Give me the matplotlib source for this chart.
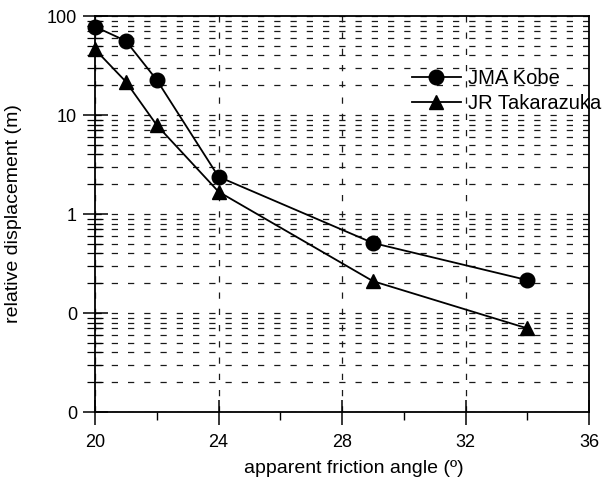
import matplotlib
matplotlib.use("Agg")
import matplotlib.pyplot as plt
import numpy as np
from matplotlib.ticker import LogLocator, NullFormatter, MultipleLocator

plt.rcParams['font.family'] = ['Liberation Sans', 'DejaVu Sans']

angle_kobe = [20, 21, 22, 24, 29, 34]
disp_kobe = [78, 56, 22.6, 2.38, 0.51, 0.215]
angle_tak = [20, 21, 22, 24, 29, 34]
disp_tak = [46, 21.7, 7.9, 1.68, 0.21, 0.07]

ytick_vals = [0.01, 0.1, 1, 10, 100]
ytick_labels = ["0", "0", "1", "10", "100"]
xtick_vals = [20, 24, 28, 32, 36]

fig = plt.figure(figsize=(6.15, 4.78), dpi=100)
ax = fig.add_axes([0.1545, 0.138, 0.8033, 0.8285])

ax.set_yscale('log')
ax.set_ylim(0.01, 100)
ax.set_xlim(20, 36)

ax.plot(angle_kobe, disp_kobe, color='black', lw=1.3, marker='o', ms=10.5,
        label='JMA Kobe', zorder=3, clip_on=False)
ax.plot(angle_tak, disp_tak, color='black', lw=1.3, marker='^', ms=9.5,
        label='JR Takarazuka', zorder=3, clip_on=False)

ax.set_yticks(ytick_vals)
ax.set_yticklabels(ytick_labels)
ax.yaxis.set_minor_locator(LogLocator(base=10, subs=np.arange(2, 10)))
ax.yaxis.set_minor_formatter(NullFormatter())
ax.set_xticks(xtick_vals)
ax.xaxis.set_minor_locator(MultipleLocator(2))

grid_style = dict(color='#1a1a1a', lw=0.9, linestyle=(0, (5, 8)))
ax.grid(True, which='both', axis='y', **grid_style)
ax.grid(True, which='major', axis='x', **grid_style)

ax.tick_params(axis='both', which='major', direction='inout', length=18, width=1.1,
               labelsize=13, colors='black')
ax.tick_params(axis='x', which='major', pad=7)
ax.tick_params(axis='y', which='major', pad=4)
ax.tick_params(axis='y', which='minor', direction='inout', length=11, width=0.9)
ax.tick_params(axis='x', which='minor', direction='out', length=6, width=1.0)

for s in ax.spines.values():
    s.set_linewidth(1.3)
    s.set_color('black')

ax.set_xlabel('apparent friction angle (º)', fontsize=14, labelpad=4)
ax.xaxis.set_label_coords(0.524, -0.12)
ax.set_ylabel('relative displacement (m)', fontsize=14)
ax.yaxis.set_label_coords(-0.148, 0.5)

leg = ax.legend(loc='upper left', bbox_to_anchor=(0.642, 0.866), frameon=False,
                fontsize=14.5, handlelength=2.4, handletextpad=0.35, labelspacing=0.3,
                borderaxespad=0, borderpad=0)

fig.savefig('out.png', dpi=100)
